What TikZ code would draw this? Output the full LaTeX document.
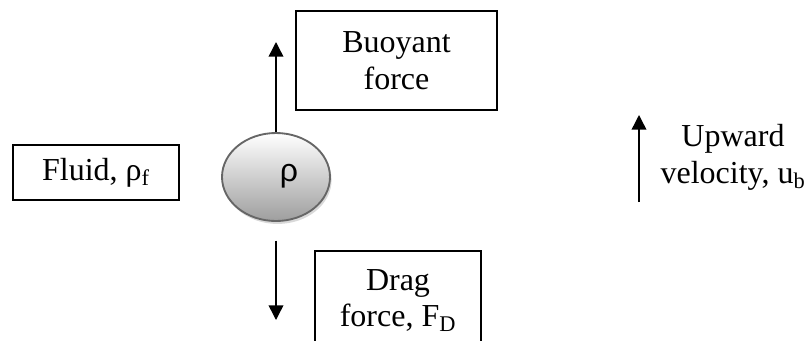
\documentclass[tikz,border=0pt]{standalone}
\usepackage{fontspec}
\setmainfont{Liberation Serif}
\newfontfamily\rhofont{Liberation Sans}
\usetikzlibrary{arrows.meta,shapes.geometric,shadows}

\begin{document}
\begin{tikzpicture}[
  x=0.75pt,y=-0.75pt,>={Triangle[length=11pt,width=11pt]},
  font=\fontsize{24}{27.6}\selectfont,
  box/.style={draw,line width=1.2pt,align=center,inner sep=0pt},
  force/.style={->,line width=1.1pt},
  ball/.style={ellipse,draw=black!60,line width=1.4pt,minimum width=81pt,minimum height=66pt,
    top color=white,bottom color=black!38,
    drop shadow={shadow xshift=1.2pt,shadow yshift=-2.2pt,opacity=0.3}}]
  \useasboundingbox (0,0) rectangle (810,340);
  \clip (0,0) rectangle (810,340);
  \node[box,minimum width=124.5pt,minimum height=41.25pt] (fluid) at (96,172.5) {Fluid, ρ\textsubscript{f}};
  \node[ball] (sphere) at (276,177) {};
  \node (rho) at (289,176) {\rhofont ρ};
  \node[box,minimum width=150.75pt,minimum height=74.25pt] (buoyant) at (396.5,60.5) {Buoyant\\force};
  \node[box,minimum width=124.5pt,minimum height=74.25pt] (drag) at (398,300.5) {Drag\\force, F\textsubscript{D}};
  \coordinate (buoytip) at (276,42);
  \coordinate (dragtip) at (276,320);
  \draw[force] (sphere.north) -- (buoytip);
  \draw[force] ([yshift=-14pt]sphere.south) -- (dragtip);
  \node[align=center,inner sep=0pt] (upvel) at (733,157) {Upward\\velocity, u\textsubscript{b}};
  \coordinate (velfoot) at (639,202);
  \coordinate (veltip) at (639,115);
  \draw[force] (velfoot) -- (veltip);
\end{tikzpicture}
\end{document}
